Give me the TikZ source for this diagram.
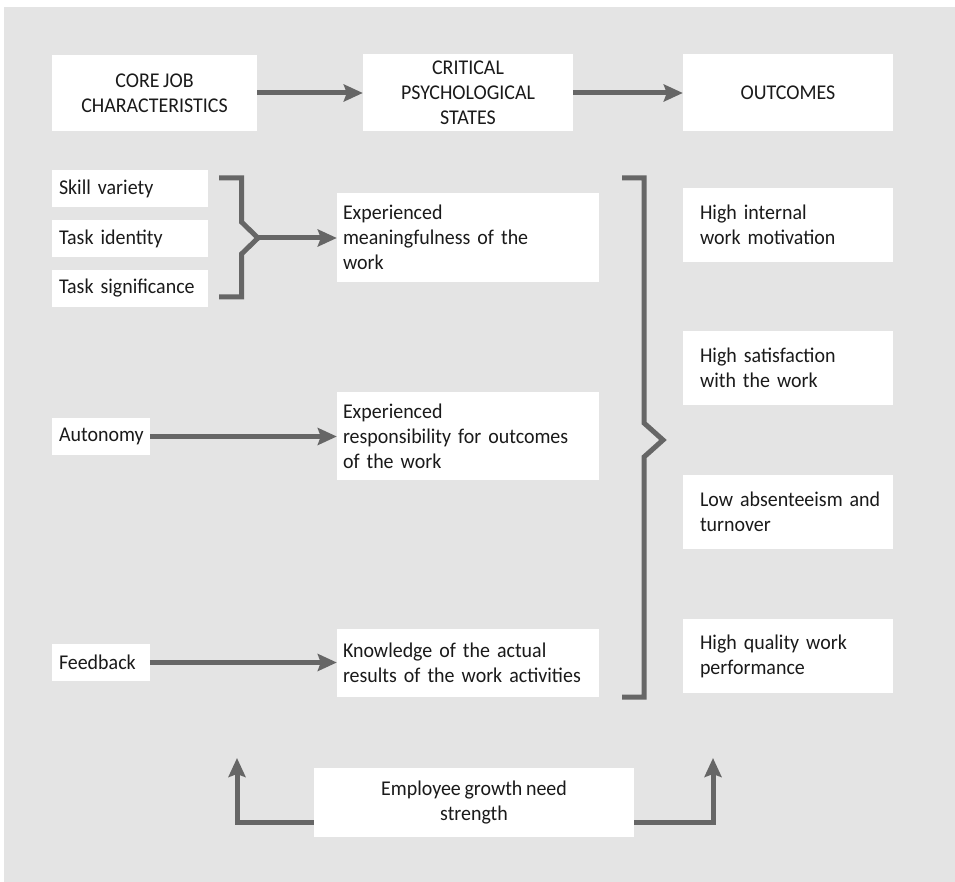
\documentclass[tikz,border=0pt]{standalone}
\usepackage{fontspec}
\setmainfont{Carlito}[FakeStretch=0.95, WordSpace=0.8]
\usetikzlibrary{arrows.meta}
\definecolor{panel}{HTML}{E4E4E4}
\definecolor{wire}{HTML}{666666}
\definecolor{ink}{HTML}{1A1A1A}
% keep words whole inside the boxes
\hyphenpenalty=10000
\exhyphenpenalty=10000
\begin{document}
\begin{tikzpicture}[x=1pt,y=-1pt,
  every node/.style={font=\fontsize{21}{25}\selectfont, text=ink},
  box/.style={fill=white, draw=none, inner sep=0pt},
  headbox/.style={box, align=center},
  wirestyle/.style={draw=wire, line width=5pt, miter limit=10},
  arr/.style={wirestyle, -{Stealth[length=19pt, width=17pt, inset=3pt]}},
]
% canvas and panel
\useasboundingbox (0,0) rectangle (955,882);
\fill[white] (0,0) rectangle (955,882);
\fill[panel] (4,7) rectangle (955,882);

% column headings
\node[headbox, minimum width=205pt, minimum height=76pt] (core) at (154.5,93) {CORE JOB\\CHARACTERISTICS};
\node[headbox, minimum width=210pt, minimum height=77pt] (crit) at (468,93) {CRITICAL\\PSYCHOLOGICAL\\STATES};
\node[headbox, minimum width=210pt, minimum height=77pt] (outc) at (788,93) {OUTCOMES};

% core job characteristics
\node[box, minimum width=156pt, minimum height=37pt, text width=142pt, align=left] (skill) at (130,188.5) {Skill~variety};
\node[box, minimum width=156pt, minimum height=37pt, text width=142pt, align=left] (ident) at (130,238.5) {Task~identity};
\node[box, minimum width=156pt, minimum height=37pt, text width=142pt, align=left] (signif) at (130,288.5) {Task~significance};
\node[box, minimum width=98pt, minimum height=37pt, text width=84pt, align=left] (auto) at (101,436.5) {Autonomy};
\node[box, minimum width=98pt, minimum height=37pt, text width=84pt, align=left] (feed) at (101,662.5) {Feedback};

% critical psychological states
\node[box, minimum width=262pt, minimum height=89pt, text width=250pt, align=left] (mean) at (468,237.5) {Experienced\\meaningfulness~of~the\\work};
\node[box, minimum width=262pt, minimum height=88pt, text width=250pt, align=left] (resp) at (468,436) {Experienced\\responsibility~for~outcomes\\of~the~work};
\node[box, minimum width=262pt, minimum height=68pt, text width=250pt, align=left] (know) at (468,663) {Knowledge~of~the~actual\\results~of~the~work~activities};

% outcomes
\node[box, minimum width=210pt, minimum height=74pt, text width=176pt, align=left] (out1) at (788,225) {High~internal\\work~motivation};
\node[box, minimum width=210pt, minimum height=74pt, text width=176pt, align=left] (out2) at (788,368) {High~satisfaction\\with~the~work};
\node[box, minimum width=210pt, minimum height=74pt, text width=176pt, align=left] (out3) at (788,512) {Low~absenteeism~and\\turnover};
\node[box, minimum width=210pt, minimum height=74pt, text width=176pt, align=left] (out4) at (788,656) {High~quality~work\\performance};

% moderator
\node[headbox, minimum width=320pt, minimum height=69pt] (growth) at (474,802.5) {Employee growth need\\strength};

% heading flow
\draw[arr] (core.east) -- (core.east -| crit.west);
\draw[arr] (crit.east) -- (crit.east -| outc.west);

% brace gathering the three task characteristics
\coordinate (lb) at (258,238);
\draw[wirestyle] (219,178) -- (241.5,178) -- (241.5,222) -- (lb) -- (241.5,254) -- (241.5,297) -- (219,297);
\draw[arr] (lb) -- (lb -| mean.west);

% single-characteristic links
\draw[arr] (auto.east) -- (auto.east -| resp.west);
\draw[arr] (feed.east) -- (feed.east -| know.west);

% brace leading to the outcomes
\draw[wirestyle] (622,178) -- (644,178) -- (644,423) -- (663,440) -- (644,457) -- (644,697) -- (622,697);

% moderating arrows from growth need strength
\coordinate (gl) at (237,758);
\coordinate (gr) at (713,758);
\draw[arr] (growth.west |- 0,822) -- (237,822) -- (gl);
\draw[arr] (growth.east |- 0,822) -- (713,822) -- (gr);
\end{tikzpicture}
\end{document}
